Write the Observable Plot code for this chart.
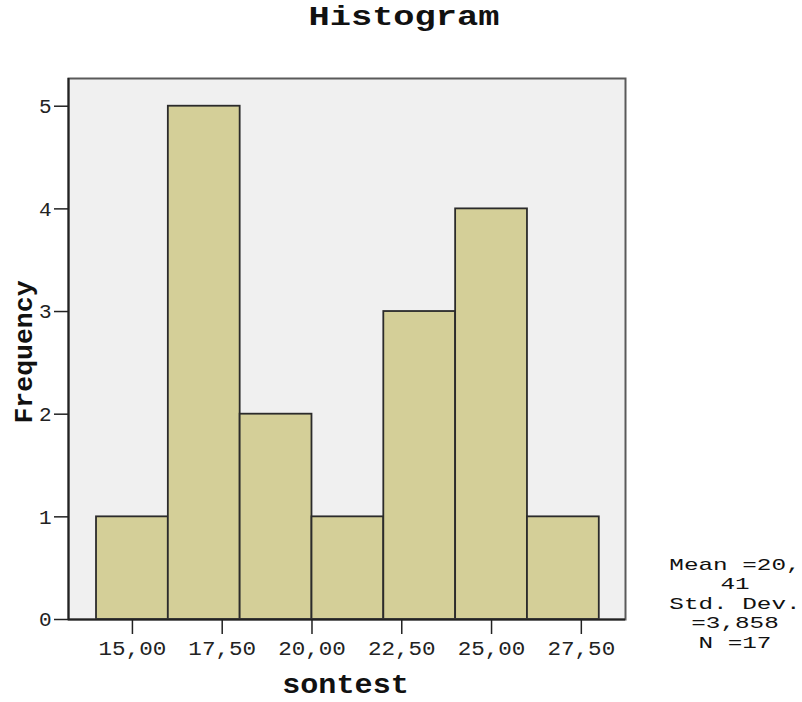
<!DOCTYPE html>
<html><head><meta charset="utf-8">
<script src="https://cdn.jsdelivr.net/npm/d3@7"></script>
<script src="https://cdn.jsdelivr.net/npm/@observablehq/plot@0.6"></script>
<style>
body{margin:0;background:#fff;}
#wrap{position:relative;width:802px;height:702px;font-family:"Liberation Mono","Courier New",monospace;color:#111;}
#title{position:relative;height:40px;}
#title .t{position:absolute;top:5px;left:3px;width:802px;text-align:center;font-size:27px;line-height:27px;font-weight:bold;transform:scaleX(1.31);transform-origin:center;}
#legend{position:absolute;left:634.5px;top:555.7px;width:200px;text-align:center;font-size:17px;line-height:19.5px;transform:scaleX(1.43);transform-origin:center;}
#chart svg{display:block;}
</style></head><body>
<div id="wrap">
<div id="title"><div class="t">Histogram</div></div>
<div id="chart"></div>
<div id="legend"></div>
</div>
<script>
const binEdges = [14, 16, 18, 20, 22, 24, 26, 28];
const counts = [1, 5, 2, 1, 3, 4, 1];
const xTicks = [15, 17.5, 20, 22.5, 25, 27.5];
const yTicks = [0, 1, 2, 3, 4, 5];
const xDomain = [13.22, 28.73];
const yDomain = [0, 5.27];
const xLabel = "sontest";
const yLabel = "Frequency";
const legendLines = ["Mean =20,", "41", "Std. Dev.", "=3,858", "N =17"];

const bins = counts.map((c, i) => ({x1: binEdges[i], x2: binEdges[i + 1], count: c}));
const fmt = d => d.toFixed(2).replace(".", ",");
const mono = '"Liberation Mono","Courier New",monospace';

const plot = Plot.plot({
  width: 802, height: 662,
  marginTop: 38, marginBottom: 83, marginLeft: 68, marginRight: 177,
  style: {fontFamily: mono, background: "transparent", color: "#111", overflow: "visible"},
  x: {domain: xDomain},
  y: {domain: yDomain},
  marks: [
    Plot.frame({fill: "#f0f0f0", stroke: "none"}),
    Plot.rectY(bins, {x1: "x1", x2: "x2", y: "count", fill: "#d4cf98", stroke: "#2b2b2b", strokeWidth: 1.8, inset: 0}),
    Plot.frame({stroke: "#5a5a5a", strokeWidth: 2}),
    Plot.ruleX([xDomain[0]], {stroke: "#222", strokeWidth: 2}),
    Plot.ruleY([0], {stroke: "#222", strokeWidth: 2}),
    Plot.axisX({ticks: xTicks, tickFormat: fmt, tickSize: 15, tickPadding: 6, fontSize: 21, label: null, color: "#222", strokeWidth: 1.5}),
    Plot.axisY({ticks: yTicks, tickFormat: d => String(d), tickSize: 14, tickPadding: 3, fontSize: 21, label: null, color: "#222", strokeWidth: 1.5}),
    Plot.text([xLabel], {text: d => d, frameAnchor: "bottom", textAnchor: "middle", lineAnchor: "middle", dx: -1.5, dy: 65, fontSize: 28, fontWeight: "bold", fill: "#111"}),
    Plot.text([yLabel], {text: d => d, frameAnchor: "left", textAnchor: "middle", lineAnchor: "middle", rotate: -90, dx: -44.9, dy: 3, fontSize: 26.5, fontWeight: "bold", fill: "#111"})
  ]
});
plot.querySelectorAll('[aria-label="x-axis tick label"] text').forEach(t => {
  t.setAttribute("textLength", 67.7);
  t.setAttribute("lengthAdjust", "spacingAndGlyphs");
});
plot.querySelectorAll('[aria-label="text"] text').forEach(t => {
  if (t.textContent === xLabel) {
    t.setAttribute("textLength", 126.6);
    t.setAttribute("lengthAdjust", "spacingAndGlyphs");
  }
});
document.getElementById("chart").appendChild(plot);
const leg = document.getElementById("legend");
legendLines.forEach(s => { const d = document.createElement("div"); d.textContent = s; leg.appendChild(d); });
</script>
</body></html>
